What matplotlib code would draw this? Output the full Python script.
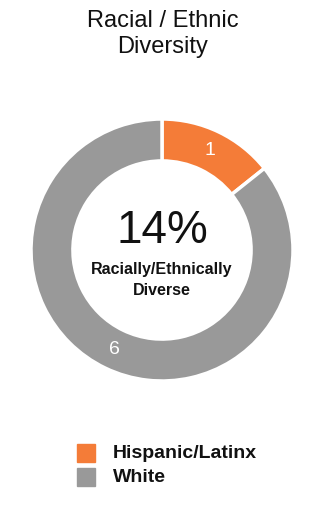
import matplotlib
matplotlib.use("Agg")
import matplotlib.pyplot as plt

groups = ["Hispanic/Latinx", "White"]
counts = [1, 6]
colors = ["#F47C38", "#999999"]
pct_label = "14%"
sub_label = "Racially/Ethnically\nDiverse"
title = "Racial / Ethnic\nDiversity"

FONT = ["Liberation Sans", "DejaVu Sans"]

fig = plt.figure(figsize=(3.26, 5.28), dpi=100)
W, H = 326, 528
cx, cy, R = 162, 250, 131
ax = fig.add_axes([(cx - R) / W, (H - cy - R) / H, 2 * R / W, 2 * R / H])

wedges, texts = ax.pie(counts, colors=colors, startangle=90, counterclock=False,
                       radius=1, labels=[str(c) for c in counts], labeldistance=0.84,
                       wedgeprops=dict(width=0.32, edgecolor="white", linewidth=2.5),
                       textprops=dict(color="white", fontsize=14, family=FONT))
for t in texts:
    t.set_ha("center"); t.set_va("center")
ax.set_xlim(-1, 1); ax.set_ylim(-1, 1)
ax.set_aspect("equal")
ax.axis("off")

fig.text(0.5, 1 - 34 / H, title, ha="center", va="center", fontsize=17,
         family=FONT, color="#111111", linespacing=1.25)
ax.text(0, 0.145, pct_label, ha="center", va="center", fontsize=33, family=FONT, color="#111111")
ax.text(0, -0.23, sub_label, ha="center", va="center", fontsize=11.5, family=FONT,
        fontweight="bold", color="#111111", linespacing=1.45)

for i, (g, c) in enumerate(zip(groups, colors)):
    y = 1 - (453 + i * 24) / H
    fig.patches.append(plt.Rectangle((77 / W, y - 9 / H), 18 / W, 18 / H,
                                     transform=fig.transFigure, color=c))
    fig.text(113 / W, y, g, ha="left", va="center", fontsize=14, family=FONT,
             fontweight="bold", color="#111111")

fig.savefig("out.png", dpi=100)
